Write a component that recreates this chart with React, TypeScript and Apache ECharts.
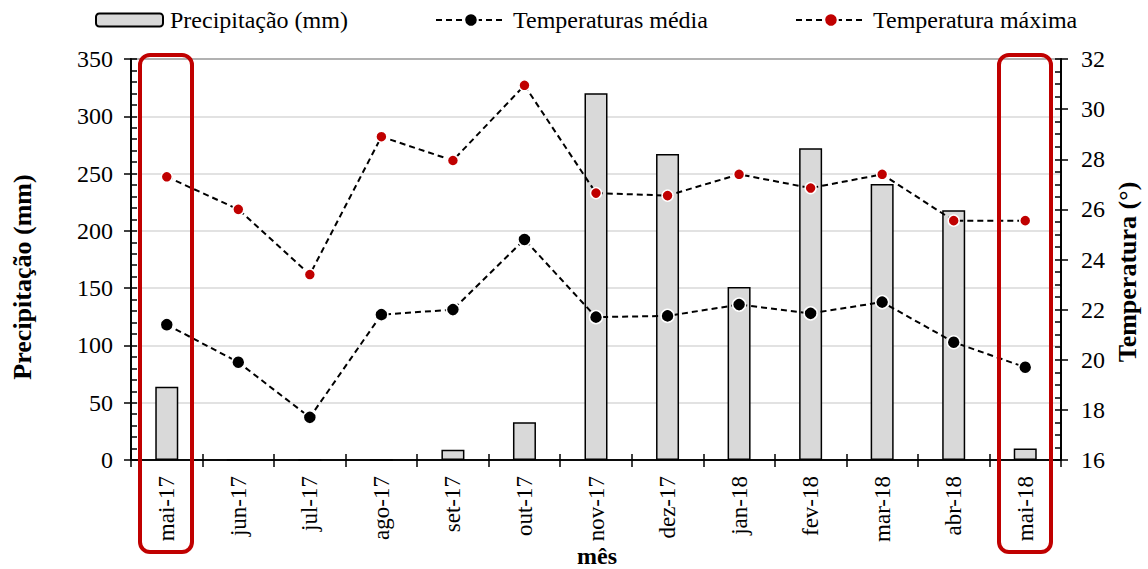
import React, { useEffect, useRef } from "react";
import * as echarts from "echarts";

const categories = ["mai-17", "jun-17", "jul-17", "ago-17", "set-17", "out-17", "nov-17", "dez-17", "jan-18", "fev-18", "mar-18", "abr-18", "mai-18"];
const precipitation = [64, 0, 0, 0, 9, 33, 320, 267, 151, 272, 241, 218, 10];
const tempMedia = [21.4, 19.9, 17.7, 21.8, 22.0, 24.8, 21.7, 21.75, 22.2, 21.85, 22.3, 20.7, 19.7];
const tempMax = [27.3, 26.0, 23.4, 28.9, 27.95, 30.95, 26.65, 26.55, 27.4, 26.85, 27.4, 25.55, 25.55];

const FONT = "Liberation Serif";

export default function App() {
  const ref = useRef<HTMLDivElement>(null);
  useEffect(() => {
    if (!ref.current) return;
    const chart = echarts.init(ref.current, null, { renderer: "svg" });
    const axisLine = { show: true, lineStyle: { color: "#000", width: 1.5 } };
    const tickStyle = { color: "#000", width: 1.5 };
    const legendText = { fontFamily: FONT, fontSize: 24, color: "#000", padding: [0, 0, 0, 2] };
    const option: any = {
      animation: false,
      backgroundColor: "#fff",
      textStyle: { fontFamily: FONT, color: "#000" },
      grid: { left: 131, right: 87, top: 59, bottom: 109, show: true, borderColor: "#000", borderWidth: 1.5, backgroundColor: "transparent" },
      legend: [
        { data: ["Precipitação (mm)"], left: 95, top: 8, padding: 0, itemWidth: 67, itemHeight: 13, textStyle: legendText },
        { data: ["Temperaturas média"], left: 435, top: 8, padding: 0, itemWidth: 70, itemHeight: 17, textStyle: legendText },
        { data: ["Temperatura máxima"], left: 795, top: 8, padding: 0, itemWidth: 70, itemHeight: 17, textStyle: legendText },
      ],
      xAxis: [
        {
          type: "category", data: categories, position: "bottom", boundaryGap: true,
          axisLine, axisTick: { show: true, inside: false, length: 7, lineStyle: tickStyle },
          axisLabel: { rotate: 90, interval: 0, margin: 16, fontFamily: FONT, fontSize: 23, color: "#000" },
          splitLine: { show: false },
        },
        {
          type: "category", data: categories, position: "bottom", boundaryGap: true,
          axisLine, axisTick: { show: true, inside: true, length: 6, lineStyle: tickStyle },
          axisLabel: { show: false }, splitLine: { show: false },
        },
      ],
      yAxis: [
        {
          type: "value", position: "left", min: 0, max: 350, interval: 50,
          axisLine, axisTick: { show: true, inside: true, length: 6, lineStyle: tickStyle },
          minorTick: { show: true, splitNumber: 5, length: 6, lineStyle: tickStyle },
          axisLabel: { margin: 18, fontFamily: FONT, fontSize: 24, color: "#000" },
          splitLine: { show: true, lineStyle: { color: "#d9d9d9", width: 1.5 } },
        },
        {
          type: "value", position: "right", min: 16, max: 32, interval: 2,
          axisLine, axisTick: { show: true, inside: true, length: 6, lineStyle: tickStyle },
          minorTick: { show: true, splitNumber: 4, length: 6, lineStyle: tickStyle },
          axisLabel: { margin: 20, fontFamily: FONT, fontSize: 24, color: "#000" },
          splitLine: { show: false },
        },
        {
          type: "value", position: "left", min: 0, max: 350, interval: 50,
          axisLine, axisTick: { show: true, inside: false, length: 7, lineStyle: tickStyle },
          axisLabel: { show: false }, splitLine: { show: false },
        },
        {
          type: "value", position: "right", min: 16, max: 32, interval: 2,
          axisLine, axisTick: { show: true, inside: false, length: 7, lineStyle: tickStyle },
          axisLabel: { show: false }, splitLine: { show: false },
        },
      ],
      series: [
        {
          name: "Precipitação (mm)", type: "bar", data: precipitation, xAxisIndex: 0, yAxisIndex: 0,
          barWidth: 23, itemStyle: { color: "#d9d9d9", borderColor: "#000", borderWidth: 1.5 }, z: 2,
        },
        {
          name: "Temperaturas média", type: "line", data: tempMedia, xAxisIndex: 0, yAxisIndex: 1,
          symbol: "circle", symbolSize: 13,
          lineStyle: { color: "#000", width: 2, type: [6, 4] },
          itemStyle: { color: "#000", borderColor: "#fff", borderWidth: 1.5 }, z: 3,
        },
        {
          name: "Temperatura máxima", type: "line", data: tempMax, xAxisIndex: 0, yAxisIndex: 1,
          symbol: "circle", symbolSize: 11,
          lineStyle: { color: "#000", width: 2, type: [6, 4] },
          itemStyle: { color: "#c00000", borderColor: "#fff", borderWidth: 1.5 }, z: 3,
        },
      ],
      graphic: [
        {
          type: "text", x: 22, y: 277, rotation: Math.PI / 2,
          style: { text: "Precipitação (mm)", fontFamily: FONT, fontWeight: "bold", fontSize: 26, fill: "#000", textAlign: "center", textVerticalAlign: "middle" },
        },
        {
          type: "text", x: 1127, y: 272, rotation: Math.PI / 2,
          style: { text: "Temperatura (°)", fontFamily: FONT, fontWeight: "bold", fontSize: 26, fill: "#000", textAlign: "center", textVerticalAlign: "middle" },
        },
        {
          type: "text", x: 597, y: 556,
          style: { text: "mês", fontFamily: FONT, fontWeight: "bold", fontSize: 24, fill: "#000", textAlign: "center", textVerticalAlign: "middle" },
        },
        {
          type: "rect", shape: { x: 140, y: 55, width: 52, height: 497, r: 10 }, z: 100,
          style: { fill: "transparent", stroke: "#c00000", lineWidth: 4 },
        },
        {
          type: "rect", shape: { x: 999, y: 55, width: 52, height: 497, r: 10 }, z: 100,
          style: { fill: "transparent", stroke: "#c00000", lineWidth: 4 },
        },
      ],
    };
    chart.setOption(option);
    return () => chart.dispose();
  }, []);
  return <div ref={ref} style={{ position: "fixed", left: 0, top: 0, width: 1148, height: 569 }} />;
}
